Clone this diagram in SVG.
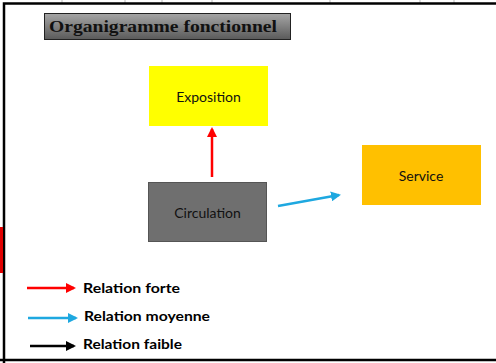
<svg xmlns="http://www.w3.org/2000/svg" width="496" height="363" viewBox="0 0 496 363">
  <defs>
    <linearGradient id="titleGrad" x1="0" y1="0" x2="0" y2="1">
      <stop offset="0" stop-color="#a6a6a6"/>
      <stop offset="1" stop-color="#5a5a5a"/>
    </linearGradient>
    <marker id="arrRed" viewBox="0 0 10 10" refX="8" refY="5" markerWidth="4" markerHeight="4" orient="auto">
      <path d="M0,0 L10,5 L0,10 z" fill="#ff0000"/>
    </marker>
    <marker id="arrBlue" viewBox="0 0 10 10" refX="8" refY="5" markerWidth="4" markerHeight="4" orient="auto">
      <path d="M0,0 L10,5 L0,10 z" fill="#1ea8e0"/>
    </marker>
    <marker id="arrBlack" viewBox="0 0 10 10" refX="8" refY="5" markerWidth="4" markerHeight="4" orient="auto">
      <path d="M0,0 L10,5 L0,10 z" fill="#000"/>
    </marker>
  </defs>
  <style>
    .node-label { font-family: "Lato", "Liberation Sans", sans-serif; font-size: 14px; fill: #111; text-anchor: middle; }
    .legend { font-family: "Lato", "Liberation Sans", sans-serif; font-size: 14px; font-weight: bold; fill: #000; }
    .frame { stroke: #000; stroke-width: 2.5; fill: none; }
    .conn { stroke-width: 2.5; fill: none; }
  </style>

  <rect width="496" height="363" fill="#fff"/>

  <!-- sheet grid ticks along the top edge -->
  <g stroke="#bbb" stroke-width="1">
    <line x1="62" y1="0" x2="62" y2="3"/>
    <line x1="125" y1="0" x2="125" y2="3"/>
    <line x1="162" y1="0" x2="162" y2="3"/>
    <line x1="212" y1="0" x2="212" y2="3"/>
    <line x1="330" y1="0" x2="330" y2="3"/>
    <line x1="420" y1="0" x2="420" y2="3"/>
    <line x1="454" y1="0" x2="454" y2="3"/>
  </g>

  <!-- outer frame -->
  <path class="frame" d="M4,363 L4,3.5 L496,3.5"/>
  <line x1="0" y1="360" x2="496" y2="360" stroke="#000" stroke-width="2.5"/>
  <rect x="0" y="227" width="3" height="46" fill="#e00000"/>

  <!-- title -->
  <g id="title">
    <rect x="44.5" y="13.5" width="246" height="26" fill="url(#titleGrad)" stroke="#222" stroke-width="1"/>
    <text x="49" y="31.5" font-family="Liberation Serif, serif" font-size="17.5" font-weight="bold" fill="#111" textLength="228" lengthAdjust="spacingAndGlyphs">Organigramme fonctionnel</text>
  </g>

  <g id="exposition">
    <rect x="149" y="66" width="119" height="60" fill="#ffff00"/>
    <text class="node-label" x="208.5" y="101.5">Exposition</text>
  </g>

  <g id="circulation">
    <rect x="148.5" y="182.5" width="118" height="59" fill="#6f6f6f" stroke="#555" stroke-width="1"/>
    <text class="node-label" x="207.5" y="217.5">Circulation</text>
  </g>

  <g id="service">
    <rect x="362" y="145" width="119" height="60" fill="#ffc000"/>
    <text class="node-label" x="421" y="180.5">Service</text>
  </g>

  <!-- connectors -->
  <g id="connectors">
    <line class="conn" x1="212" y1="177" x2="212" y2="129" stroke="#ff0000" marker-end="url(#arrRed)"/>
    <line class="conn" x1="278" y1="206" x2="339" y2="195" stroke="#1ea8e0" marker-end="url(#arrBlue)"/>
  </g>

  <!-- legend -->
  <g id="legend">
    <line class="conn" x1="27" y1="288" x2="74" y2="288" stroke="#ff0000" marker-end="url(#arrRed)"/>
    <text class="legend" x="83" y="293" textLength="97" lengthAdjust="spacingAndGlyphs">Relation forte</text>
    <line class="conn" x1="28" y1="318" x2="76" y2="318" stroke="#1ea8e0" marker-end="url(#arrBlue)"/>
    <text class="legend" x="84" y="321" textLength="126" lengthAdjust="spacingAndGlyphs">Relation moyenne</text>
    <line class="conn" x1="30" y1="346" x2="74" y2="346" stroke="#000" marker-end="url(#arrBlack)"/>
    <text class="legend" x="83" y="349" textLength="99" lengthAdjust="spacingAndGlyphs">Relation faible</text>
  </g>
</svg>
